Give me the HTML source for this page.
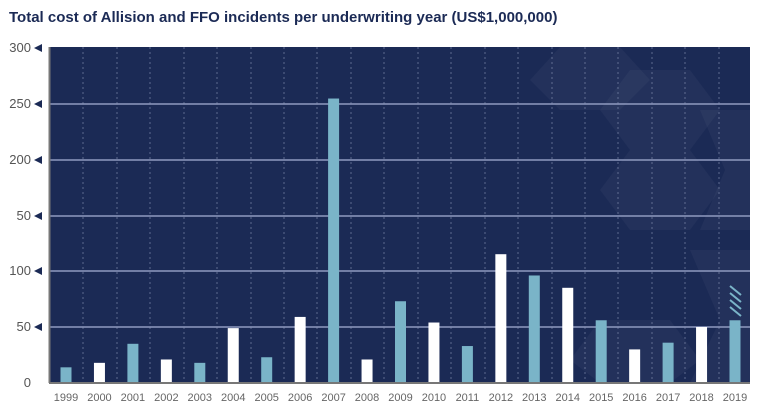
<!DOCTYPE html>
<html><head><style>
body{margin:0;background:#fff;width:763px;height:414px;overflow:hidden;font-family:"Liberation Sans",sans-serif}
</style></head><body>
<svg width="763" height="414" xmlns="http://www.w3.org/2000/svg" font-family="Liberation Sans, sans-serif">
<text x="9" y="22" font-size="15" font-weight="bold" fill="#1b2a55">Total cost of Allision and FFO incidents per underwriting year (US$1,000,000)</text>
<rect x="49" y="47" width="701" height="336" fill="#1b2a55"/>
<g fill="#ffffff" fill-opacity="0.035">
<polygon points="560,47 620,47 650,80 620,110 560,110 530,80"/>
<polygon points="630,70 690,70 720,110 690,150 630,150 600,110"/>
<polygon points="630,150 690,150 720,190 690,230 630,230 600,190"/>
<polygon points="700,110 750,110 750,230 700,230 725,170"/>
<polygon points="690,250 750,250 750,383 690,383 720,320"/>
<polygon points="600,320 670,320 700,360 670,383 600,383 570,360"/>
</g>
<g stroke="#8a96b8" stroke-width="1" stroke-dasharray="2,3" opacity="0.6">
<line x1="83" y1="47" x2="83" y2="382"/><line x1="117" y1="47" x2="117" y2="382"/><line x1="150" y1="47" x2="150" y2="382"/><line x1="184" y1="47" x2="184" y2="382"/><line x1="217" y1="47" x2="217" y2="382"/><line x1="251" y1="47" x2="251" y2="382"/><line x1="284" y1="47" x2="284" y2="382"/><line x1="317" y1="47" x2="317" y2="382"/><line x1="351" y1="47" x2="351" y2="382"/><line x1="384" y1="47" x2="384" y2="382"/><line x1="418" y1="47" x2="418" y2="382"/><line x1="451" y1="47" x2="451" y2="382"/><line x1="485" y1="47" x2="485" y2="382"/><line x1="518" y1="47" x2="518" y2="382"/><line x1="552" y1="47" x2="552" y2="382"/><line x1="585" y1="47" x2="585" y2="382"/><line x1="618" y1="47" x2="618" y2="382"/><line x1="652" y1="47" x2="652" y2="382"/><line x1="685" y1="47" x2="685" y2="382"/><line x1="719" y1="47" x2="719" y2="382"/>
</g>
<g stroke="#8f9ac0" stroke-width="1.5">
<line x1="49" y1="104" x2="750" y2="104"/><line x1="49" y1="160" x2="750" y2="160"/><line x1="49" y1="216" x2="750" y2="216"/><line x1="49" y1="271" x2="750" y2="271"/><line x1="49" y1="327" x2="750" y2="327"/>
</g>
<g id="bars"></g>
<g stroke="#7ab4c8" stroke-width="2">
<line x1="730" y1="286" x2="741" y2="295"/><line x1="730" y1="293" x2="741" y2="302"/><line x1="730" y1="300" x2="741" y2="309"/><line x1="730" y1="307" x2="741" y2="316"/>
</g>
<line x1="49.5" y1="47" x2="49.5" y2="383" stroke="#777" stroke-width="2"/>
<line x1="49" y1="383" x2="750" y2="383" stroke="#777" stroke-width="2"/>
<g font-size="13" fill="#555" text-anchor="end">
<text x="31" y="52">300</text><text x="31" y="108">250</text><text x="31" y="164">200</text><text x="31" y="220">50</text><text x="31" y="275">100</text><text x="31" y="331">50</text><text x="31" y="387">0</text>
</g>
<g fill="#1b2a55">
<polygon points="34,48 42,44 42,52"/><polygon points="34,104 42,100 42,108"/><polygon points="34,160 42,156 42,164"/><polygon points="34,216 42,212 42,220"/><polygon points="34,271 42,267 42,275"/><polygon points="34,327 42,323 42,331"/>
</g>
<g id="years" font-size="11" fill="#666" text-anchor="middle"></g>
</svg>
<script>
var v=[14,18,35,21,18,49,23,59,254,21,73,54,33,115,96,85,56,30,36,50,56];
var b=document.getElementById('bars'),y=document.getElementById('years'),ns='http://www.w3.org/2000/svg';
v.forEach(function(d,i){var cx=66+i*33.45,h=d*1.12;
var r=document.createElementNS(ns,'rect');r.setAttribute('x',cx-5.5);r.setAttribute('y',383-h);r.setAttribute('width',11);r.setAttribute('height',h);r.setAttribute('fill',i%2?'#ffffff':'#7ab4c8');b.appendChild(r);
var t=document.createElementNS(ns,'text');t.setAttribute('x',cx);t.setAttribute('y',401);t.textContent=1999+i;y.appendChild(t);});
</script>
</body></html>
